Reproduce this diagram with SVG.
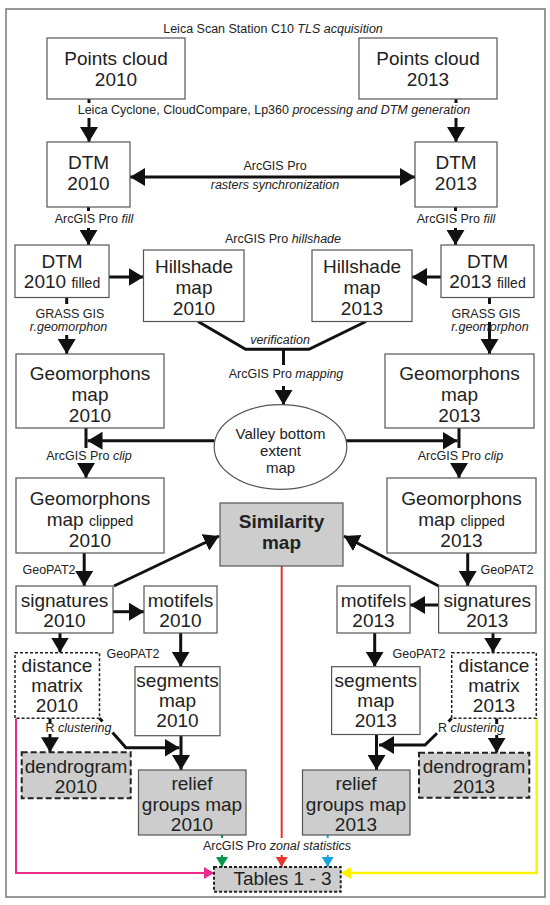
<svg xmlns="http://www.w3.org/2000/svg" width="550" height="905" viewBox="0 0 550 905">
<defs>
<marker id="ah" viewBox="0 0 15 18" refX="15" refY="9" markerWidth="15" markerHeight="18" markerUnits="userSpaceOnUse" orient="auto-start-reverse">
<path d="M0,0 L15,9 L0,18 z" fill="#111"/>
</marker>
<marker id="ag" viewBox="0 0 10 12" refX="10" refY="6" markerWidth="10" markerHeight="12" markerUnits="userSpaceOnUse" orient="auto"><path d="M0,0 L10,6 L0,12 z" fill="#00984a"/></marker>
<marker id="ar" viewBox="0 0 10 12" refX="10" refY="6" markerWidth="10" markerHeight="12" markerUnits="userSpaceOnUse" orient="auto"><path d="M0,0 L10,6 L0,12 z" fill="#e8332a"/></marker>
<marker id="ab" viewBox="0 0 10 12" refX="10" refY="6" markerWidth="10" markerHeight="12" markerUnits="userSpaceOnUse" orient="auto"><path d="M0,0 L10,6 L0,12 z" fill="#1ba1dc"/></marker>
<marker id="ap" viewBox="0 0 10 12" refX="10" refY="6" markerWidth="10" markerHeight="12" markerUnits="userSpaceOnUse" orient="auto"><path d="M0,0 L10,6 L0,12 z" fill="#ec2a8c"/></marker>
<marker id="ay" viewBox="0 0 10 12" refX="10" refY="6" markerWidth="10" markerHeight="12" markerUnits="userSpaceOnUse" orient="auto"><path d="M0,0 L10,6 L0,12 z" fill="#fff200"/></marker>
</defs>
<style>
text{font-family:"Liberation Sans",Arial,sans-serif;fill:#222;text-anchor:middle}
.t{font-size:19px}
.s{font-size:12.5px}
.e{font-size:15px}
.i{font-style:italic}
.bx{fill:#fff;stroke:#555;stroke-width:1.2}
.gr{fill:#cdcdcd;stroke:#555;stroke-width:1.2}
.dm{fill:#fff;stroke:#222;stroke-width:1.5;stroke-dasharray:3 2}
.dg{fill:#cdcdcd;stroke:#222;stroke-width:2;stroke-dasharray:6 3}
.tb{fill:#cdcdcd;stroke:#222;stroke-width:2;stroke-dasharray:3 2}
.c{fill:none;stroke:#111;stroke-width:3}
.a{marker-end:url(#ah)}
</style>
<rect x="6" y="9" width="539" height="888" fill="#fff" stroke="#777" stroke-width="1.5"/>

<g id="connectors">
<line class="c" x1="89" y1="99" x2="89" y2="103"/>
<line class="c a" x1="89" y1="118" x2="89" y2="142"/>
<line class="c" x1="456" y1="99" x2="456" y2="103"/>
<line class="c a" x1="456" y1="118" x2="456" y2="142"/>
<line class="c" x1="130" y1="177" x2="415" y2="177" marker-start="url(#ah)" marker-end="url(#ah)"/>
<line class="c" x1="88.5" y1="207" x2="88.5" y2="211"/>
<line class="c a" x1="88.5" y1="228" x2="88.5" y2="245"/>
<line class="c" x1="455.5" y1="207" x2="455.5" y2="211"/>
<line class="c a" x1="455.5" y1="228" x2="455.5" y2="245"/>
<line class="c a" x1="109" y1="277" x2="143.5" y2="277"/>
<line class="c a" x1="441" y1="277" x2="412" y2="277"/>
<line class="c" x1="66.7" y1="297.5" x2="66.7" y2="304"/>
<line class="c a" x1="66.7" y1="335" x2="66.7" y2="354"/>
<line class="c" x1="489.5" y1="297.5" x2="489.5" y2="304"/>
<line class="c a" x1="489.5" y1="322" x2="489.5" y2="354"/>
<polyline class="c" points="198,321.5 245.6,349.3 309,349.3 366,321.5"/>
<line class="c" x1="283.5" y1="349.3" x2="283.5" y2="365"/>
<line class="c a" x1="283.5" y1="386" x2="283.5" y2="405"/>
<line class="c a" x1="214.5" y1="440.7" x2="87.5" y2="440.7"/>
<line class="c a" x1="346" y1="440.7" x2="457.5" y2="440.7"/>
<line class="c" x1="86" y1="428" x2="86" y2="448"/>
<line class="c a" x1="86" y1="463" x2="86" y2="478"/>
<line class="c" x1="459" y1="428" x2="459" y2="448"/>
<line class="c a" x1="459" y1="463" x2="459" y2="478"/>
<line class="c a" x1="84.2" y1="553" x2="84.2" y2="586"/>
<line class="c a" x1="467.7" y1="553" x2="467.7" y2="586"/>
<line class="c a" x1="114" y1="586" x2="219" y2="536"/>
<line class="c a" x1="438.6" y1="586" x2="344" y2="536"/>
<line class="c a" x1="113" y1="611.7" x2="144" y2="611.7"/>
<line class="c a" x1="438.6" y1="605" x2="410" y2="605"/>
<line class="c a" x1="60" y1="633" x2="60" y2="652.5"/>
<line class="c a" x1="493" y1="633" x2="493" y2="652.5"/>
<line class="c a" x1="180.7" y1="633" x2="180.7" y2="666.7"/>
<line class="c a" x1="374.7" y1="633" x2="374.7" y2="666.7"/>
<line class="c" x1="50" y1="718.3" x2="50" y2="724"/>
<line class="c a" x1="50" y1="734" x2="50" y2="752.3"/>
<line class="c" x1="496.7" y1="718.3" x2="496.7" y2="724"/>
<line class="c a" x1="496.7" y1="735" x2="496.7" y2="752.7"/>
<line class="c" x1="99.5" y1="718.3" x2="102.5" y2="721.6" stroke-width="2"/>
<polyline class="c a" points="112.5,732.5 126,747.7 179.5,747.7"/>
<line class="c" x1="451.7" y1="718.3" x2="448.5" y2="721.5" stroke-width="2"/>
<polyline class="c a" points="437,733.3 425,745 379,745"/>
<line class="c a" x1="181" y1="735.7" x2="181" y2="770"/>
<line class="c a" x1="376.5" y1="734.5" x2="376.5" y2="770"/>
<line x1="222" y1="835" x2="222" y2="838" stroke="#00984a" stroke-width="2"/>
<line x1="222" y1="855" x2="222" y2="867" stroke="#00984a" stroke-width="2" marker-end="url(#ag)"/>
<line x1="281.7" y1="566" x2="281.7" y2="838" stroke="#e8332a" stroke-width="2"/>
<line x1="281.7" y1="855" x2="281.7" y2="867" stroke="#e8332a" stroke-width="2" marker-end="url(#ar)"/>
<line x1="327.7" y1="835" x2="327.7" y2="838" stroke="#1ba1dc" stroke-width="2"/>
<line x1="327.7" y1="855" x2="327.7" y2="867" stroke="#1ba1dc" stroke-width="2" marker-end="url(#ab)"/>
<polyline points="16,718.3 16,873 214,873" fill="none" stroke="#ec2a8c" stroke-width="2" marker-end="url(#ap)"/>
<polyline points="536.7,718.3 536.7,873 341,873" fill="none" stroke="#fff200" stroke-width="2.5" marker-end="url(#ay)"/>
</g>

<g id="labels">
<text class="s" x="273" y="33">Leica Scan Station C10 <tspan class="i">TLS acquisition</tspan></text>
<text class="s" x="274" y="114">Leica Cyclone, CloudCompare, Lp360 <tspan class="i">processing and DTM generation</tspan></text>
<text class="s" x="275" y="170">ArcGIS Pro</text>
<text class="s i" x="275" y="189">rasters synchronization</text>
<text class="s" x="94" y="223">ArcGIS Pro <tspan class="i">fill</tspan></text>
<text class="s" x="456" y="223">ArcGIS Pro <tspan class="i">fill</tspan></text>
<text class="s" x="283" y="243">ArcGIS Pro <tspan class="i">hillshade</tspan></text>
<text class="s" x="70" y="318">GRASS GIS</text>
<text class="s i" x="68.5" y="331">r.geomorphon</text>
<text class="s" x="486" y="318">GRASS GIS</text>
<text class="s i" x="490" y="331">r.geomorphon</text>
<text class="s i" x="280" y="344">verification</text>
<text class="s" x="286" y="378">ArcGIS Pro <tspan class="i">mapping</tspan></text>
<text class="s" x="89" y="460">ArcGIS Pro <tspan class="i">clip</tspan></text>
<text class="s" x="460.5" y="460">ArcGIS Pro <tspan class="i">clip</tspan></text>
<text class="s" x="49" y="574">GeoPAT2</text>
<text class="s" x="507" y="574">GeoPAT2</text>
<text class="s" x="133" y="658">GeoPAT2</text>
<text class="s" x="419" y="658">GeoPAT2</text>
<text class="s" x="78.5" y="732.3">R <tspan class="i">clustering</tspan></text>
<text class="s" x="471" y="731.7">R <tspan class="i">clustering</tspan></text>
<text class="s" x="277" y="850">ArcGIS Pro <tspan class="i">zonal statistics</tspan></text>
</g>

<g id="pc2010"><rect class="bx" x="47" y="38" width="138" height="61"/><text class="t" x="116" y="65">Points cloud</text><text class="t" x="116" y="86">2010</text></g>
<g id="pc2013"><rect class="bx" x="359" y="38" width="138" height="61"/><text class="t" x="428" y="65">Points cloud</text><text class="t" x="428" y="86">2013</text></g>
<g id="dtm2010"><rect class="bx" x="47" y="142" width="83" height="65"/><text class="t" x="88.5" y="169">DTM</text><text class="t" x="88.5" y="190">2010</text></g>
<g id="dtm2013"><rect class="bx" x="415" y="142" width="82" height="65"/><text class="t" x="456" y="169">DTM</text><text class="t" x="456" y="190">2013</text></g>
<g id="dtm2010f"><rect class="bx" x="15" y="245" width="94" height="52.5"/><text class="t" x="62" y="268">DTM</text><text class="t" x="62" y="288">2010 <tspan font-size="14">filled</tspan></text></g>
<g id="dtm2013f"><rect class="bx" x="441" y="245" width="93" height="52.5"/><text class="t" x="487.5" y="268">DTM</text><text class="t" x="487.5" y="288">2013 <tspan font-size="14">filled</tspan></text></g>
<g id="hs2010"><rect class="bx" x="143.5" y="250" width="100.5" height="71.5"/><text class="t" x="194" y="273">Hillshade</text><text class="t" x="194" y="294">map</text><text class="t" x="194" y="315">2010</text></g>
<g id="hs2013"><rect class="bx" x="312" y="250" width="100" height="71.5"/><text class="t" x="362" y="273">Hillshade</text><text class="t" x="362" y="294">map</text><text class="t" x="362" y="315">2013</text></g>
<g id="geo2010"><rect class="bx" x="16" y="354" width="148" height="74"/><text class="t" x="90" y="380">Geomorphons</text><text class="t" x="90" y="401">map</text><text class="t" x="90" y="422">2010</text></g>
<g id="geo2013"><rect class="bx" x="385" y="354" width="149" height="74"/><text class="t" x="459.5" y="380">Geomorphons</text><text class="t" x="459.5" y="401">map</text><text class="t" x="459.5" y="422">2013</text></g>
<g id="valley"><ellipse cx="280.5" cy="447" rx="66.3" ry="42.3" fill="#fff" stroke="#555" stroke-width="1.2"/><text class="e" x="280.5" y="439">Valley bottom</text><text class="e" x="280.5" y="456">extent</text><text class="e" x="280.5" y="473">map</text></g>
<g id="clip2010"><rect class="bx" x="16" y="478" width="148" height="75"/><text class="t" x="90" y="505">Geomorphons</text><text class="t" x="90" y="526">map <tspan font-size="14">clipped</tspan></text><text class="t" x="90" y="547">2010</text></g>
<g id="clip2013"><rect class="bx" x="387" y="478" width="149" height="75"/><text class="t" x="461.5" y="505">Geomorphons</text><text class="t" x="461.5" y="526">map <tspan font-size="14">clipped</tspan></text><text class="t" x="461.5" y="547">2013</text></g>
<g id="similarity"><rect class="gr" x="220" y="503" width="123" height="63"/><text class="t" x="281.5" y="528" font-weight="bold">Similarity</text><text class="t" x="281.5" y="549" font-weight="bold">map</text></g>
<g id="sig2010"><rect class="bx" x="16" y="586" width="97" height="47"/><text class="t" x="64.5" y="606.7">signatures</text><text class="t" x="64.5" y="627">2010</text></g>
<g id="sig2013"><rect class="bx" x="438.6" y="586" width="97.4" height="47"/><text class="t" x="487.3" y="606.7">signatures</text><text class="t" x="487.3" y="627">2013</text></g>
<g id="mot2010"><rect class="bx" x="144" y="586" width="73" height="47"/><text class="t" x="180.5" y="606.7">motifels</text><text class="t" x="180.5" y="627">2010</text></g>
<g id="mot2013"><rect class="bx" x="337" y="586" width="73" height="47"/><text class="t" x="373.5" y="606.7">motifels</text><text class="t" x="373.5" y="627">2013</text></g>
<g id="dist2010"><rect class="dm" x="15" y="652.7" width="84.5" height="65.6"/><text class="t" x="57" y="671.7">distance</text><text class="t" x="57" y="691.7">matrix</text><text class="t" x="57" y="711.7">2010</text></g>
<g id="dist2013"><rect class="dm" x="451.7" y="652.7" width="84.6" height="65.6"/><text class="t" x="494" y="671.7">distance</text><text class="t" x="494" y="691.7">matrix</text><text class="t" x="494" y="711.7">2013</text></g>
<g id="seg2010"><rect class="bx" x="135" y="666.7" width="85" height="69"/><text class="t" x="177.5" y="686.7">segments</text><text class="t" x="177.5" y="706.7">map</text><text class="t" x="177.5" y="726.7">2010</text></g>
<g id="seg2013"><rect class="bx" x="331.6" y="666.7" width="88.4" height="67.8"/><text class="t" x="375.8" y="686.7">segments</text><text class="t" x="375.8" y="706.7">map</text><text class="t" x="375.8" y="726.7">2013</text></g>
<g id="den2010"><rect class="dg" x="21.7" y="752.3" width="109" height="46"/><text class="t" x="76" y="772.7">dendrogram</text><text class="t" x="76" y="792.7">2010</text></g>
<g id="den2013"><rect class="dg" x="419" y="752.7" width="110.3" height="45"/><text class="t" x="474" y="772.7">dendrogram</text><text class="t" x="474" y="792.7">2013</text></g>
<g id="rel2010"><rect class="gr" x="138.5" y="770" width="107.5" height="65"/><text class="t" x="192" y="790">relief</text><text class="t" x="192" y="811">groups map</text><text class="t" x="192" y="831">2010</text></g>
<g id="rel2013"><rect class="gr" x="302.5" y="770" width="107.5" height="65"/><text class="t" x="356" y="790">relief</text><text class="t" x="356" y="811">groups map</text><text class="t" x="356" y="831">2013</text></g>
<g id="tables"><rect class="tb" x="214" y="867" width="126.7" height="24.7"/><text class="t" x="282.5" y="885">Tables 1 - 3</text></g>
</svg>
